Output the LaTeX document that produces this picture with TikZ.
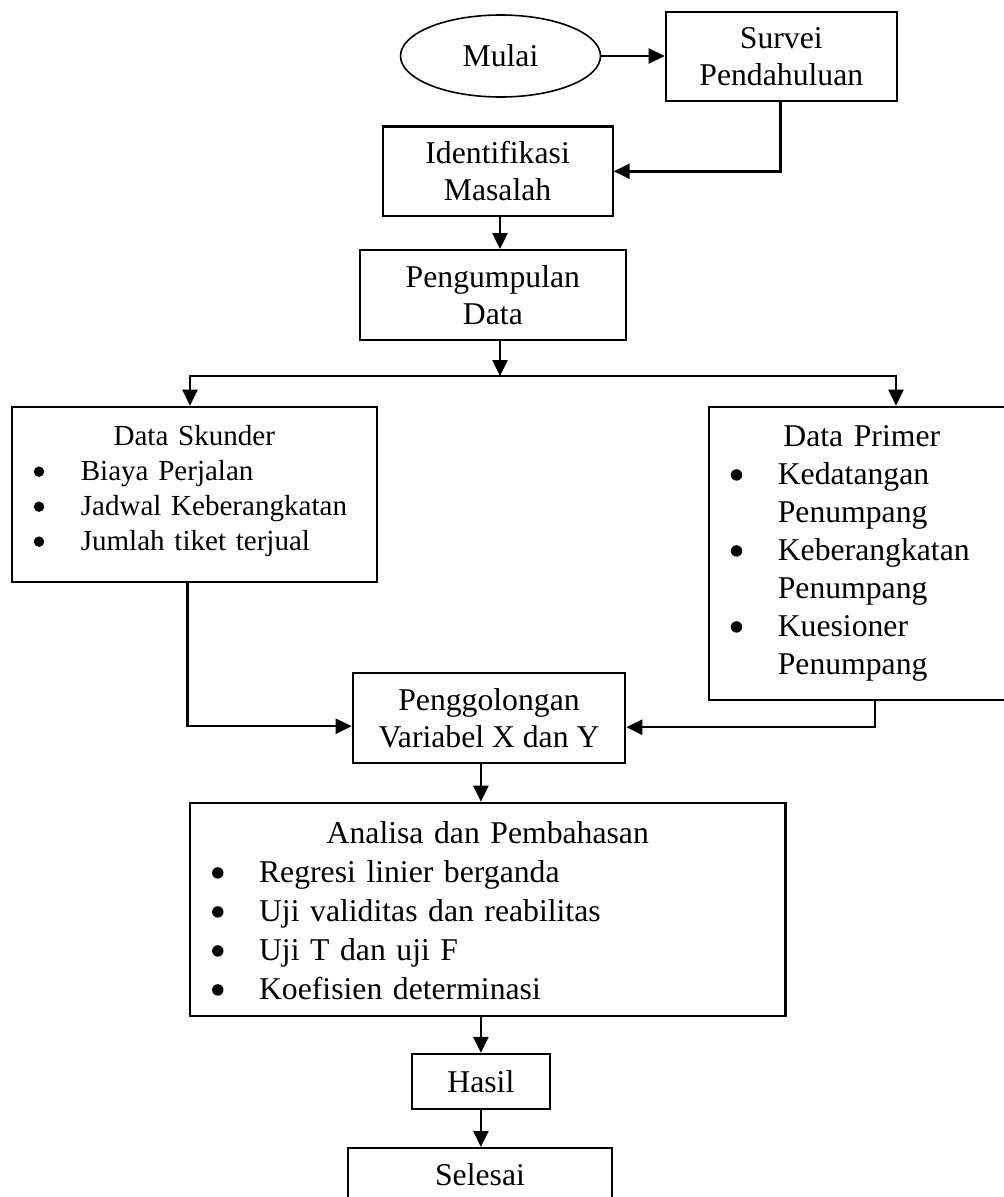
\documentclass[tikz,border=0pt]{standalone}
\usepackage{fontspec}
\setmainfont{Liberation Serif}
\usepackage{tikz}
\usetikzlibrary{arrows.meta,shapes.geometric}
\newcommand{\hurufbesar}{\fontsize{31.7}{37}\selectfont}
\newcommand{\hurufkecil}{\fontsize{29.06}{35}\selectfont}
\newcommand{\butir}[1]{\makebox[\linewidth][l]{\makebox[69pt][l]{\hspace*{22pt}\raisebox{0.11em}{\tikz\fill (0,0) circle[radius=0.18em];}}#1}}
\newcommand{\lanjut}[1]{\makebox[\linewidth][l]{\hspace*{69pt}#1}}
\tikzstyle{mulai}=[ellipse,draw=black,line width=1.6pt,minimum width=200pt,minimum height=82pt]
\tikzstyle{proses}=[rectangle,draw=black,line width=2.2pt,align=center,minimum height=90pt]
\tikzstyle{daftar}=[rectangle,draw=black,line width=2.2pt,align=center,inner xsep=0pt,inner ysep=0pt,anchor=north west]

\begin{document}
\begin{tikzpicture}[->,>={Triangle[length=16pt,width=15pt]},line width=2.5pt,
                    x=1pt,y=-1pt,font=\hurufbesar]

    \useasboundingbox (0,0) rectangle (1004,1197);

    \node[mulai]  (mulai) at (500.5,56) {Mulai};
    \node[proses, minimum width=231pt, minimum height=89pt] (survei) at (781.3,56.5) {Survei\\Pendahuluan};
    \node[proses, minimum width=230pt, minimum height=89.5pt] (identifikasi) at (497.6,171.3) {Identifikasi\\Masalah};
    \node[proses, minimum width=266pt] (pengumpulan) at (492.9,295.2) {Pengumpulan\\Data};

    \node[daftar, font=\hurufkecil, text width=365pt, text height=38.3pt, text depth=136.7pt]
        (skunder) at (10.7,405.7) {Data Skunder\\
            \butir{Biaya Perjalan}\\
            \butir{Jadwal Keberangkatan}\\
            \butir{Jumlah tiket terjual}};
    \node[daftar, font=\fontsize{31.7}{38}\selectfont, text width=306pt, text height=39.3pt, text depth=254pt]
        (primer) at (707.7,405.7) {Data Primer\\
            \butir{Kedatangan}\\
            \lanjut{Penumpang}\\
            \butir{Keberangkatan}\\
            \lanjut{Penumpang}\\
            \butir{Kuesioner}\\
            \lanjut{Penumpang}};

    \node[proses, minimum width=272.5pt, minimum height=90.3pt] (penggolongan) at (489,718.2) {Penggolongan\\Variabel X dan Y};
    \node[daftar, font=\fontsize{31.7}{39}\selectfont, text width=595.4pt, text height=40.3pt, text depth=172.6pt]
        (analisa) at (189,801.7) {Analisa dan Pembahasan\\
            \butir{Regresi linier berganda}\\
            \butir{Uji validitas dan reabilitas}\\
            \butir{Uji T dan uji F}\\
            \butir{Koefisien determinasi}};
    \node[proses, minimum width=138.3pt, minimum height=55pt] (hasil) at (480.9,1081.5) {Hasil};
    \node[proses, minimum width=264pt, minimum height=54pt, anchor=north] (selesai) at (480,1147) {Selesai};

    % titik cabang pengumpulan data
    \coordinate (cabang) at (500,376);
    \coordinate (cabangkiri) at (190,376);
    \coordinate (cabangkanan) at (896,376);

    \path
        (mulai.east) edge (mulai.east -| survei.west)
        (identifikasi.south -| cabang) edge (pengumpulan.north -| cabang)
        (pengumpulan.south -| cabang) edge (cabang)
        (penggolongan.south -| hasil) edge (analisa.north -| hasil)
        (analisa.south -| hasil) edge (hasil.north)
        (hasil.south) edge (selesai.north -| hasil.south);

    \draw ([xshift=-1pt]survei.south) |- (identifikasi.east);
    \draw (cabang) -| (cabangkiri |- skunder.north);
    \draw (cabang) -| (cabangkanan |- primer.north);
    \draw ([xshift=-6.6pt]skunder.south) |- ([yshift=-8pt]penggolongan.west);
    \draw ([xshift=13pt]primer.south) |- ([yshift=-9pt]penggolongan.east);
\end{tikzpicture}
\end{document}
